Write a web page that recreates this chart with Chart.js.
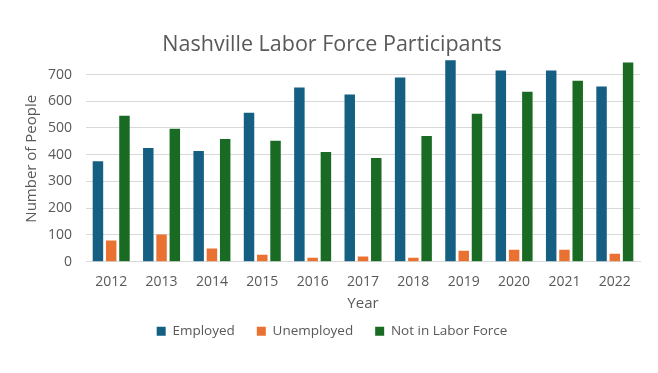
<!DOCTYPE html>
<html>
<head>
<meta charset="utf-8">
<script src="https://cdn.jsdelivr.net/npm/chart.js@4"></script>
<style>
  html, body { margin: 0; padding: 0; background: #fff; }
  #wrap { width: 658px; height: 373px; }
</style>
</head>
<body>
<div id="wrap"><canvas id="grafico"></canvas></div>
<script>
// Dados
const anos = ['2012', '2013', '2014', '2015', '2016', '2017', '2018', '2019', '2020', '2021', '2022'];
const empregados = [376, 425, 414, 557, 651, 625, 689, 753, 715, 715, 655];
const desempregados = [79, 102, 49, 26, 15, 19, 15, 41, 45, 45, 30];
const foraDaForca = [546, 497, 459, 452, 410, 388, 470, 553, 636, 677, 745];
const ticksY = [0, 100, 200, 300, 400, 500, 600, 700];

const corTexto = '#595959';
const fonte = '"Open Sans", sans-serif';

const ctx = document.getElementById('grafico');
new Chart(ctx, {
    type: 'bar',
    data: {
        labels: anos,
        datasets: [
            { label: 'Employed', data: empregados, backgroundColor: '#156082' },
            { label: 'Unemployed', data: desempregados, backgroundColor: '#E97132' },
            { label: 'Not in Labor Force', data: foraDaForca, backgroundColor: '#196B24' }
        ]
    },
    options: {
        responsive: true,
        maintainAspectRatio: false,
        animation: false,
        devicePixelRatio: 1,
        categoryPercentage: 0.79,
        barPercentage: 0.79,
        layout: { padding: { left: 24, right: 18, top: 32, bottom: 25 } },
        scales: {
            x: {
                grid: { display: false },
                border: { color: '#d9d9d9' },
                ticks: { color: corTexto, font: { family: fonte, size: 14 }, padding: 4 },
                title: { display: true, text: 'Year', color: corTexto, font: { family: fonte, size: 15 }, padding: { top: 0, bottom: -10 } }
            },
            y: {
                min: 0,
                max: 770,
                afterBuildTicks: (scale) => {
                    scale.ticks = ticksY.map(v => ({ value: v }));
                },
                grid: { color: '#d9d9d9', drawTicks: false },
                border: { display: false },
                ticks: { color: corTexto, font: { family: fonte, size: 14 }, padding: 14 },
                title: { display: true, text: 'Number of People', color: corTexto, font: { family: fonte, size: 15, lineHeight: 1 }, padding: { top: 0, bottom: -5 } }
            }
        },
        plugins: {
            title: {
                display: true,
                text: 'Nashville Labor Force Participants',
                color: corTexto,
                font: { family: fonte, size: 21.5, weight: 'normal' },
                padding: { top: 0, bottom: -2 }
            },
            legend: {
                position: 'bottom',
                labels: {
                    color: corTexto,
                    font: { family: fonte, size: 13.5 },
                    boxWidth: 9,
                    boxHeight: 9,
                    padding: 22
                }
            },
            tooltip: { enabled: false }
        }
    }
});
</script>
</body>
</html>
